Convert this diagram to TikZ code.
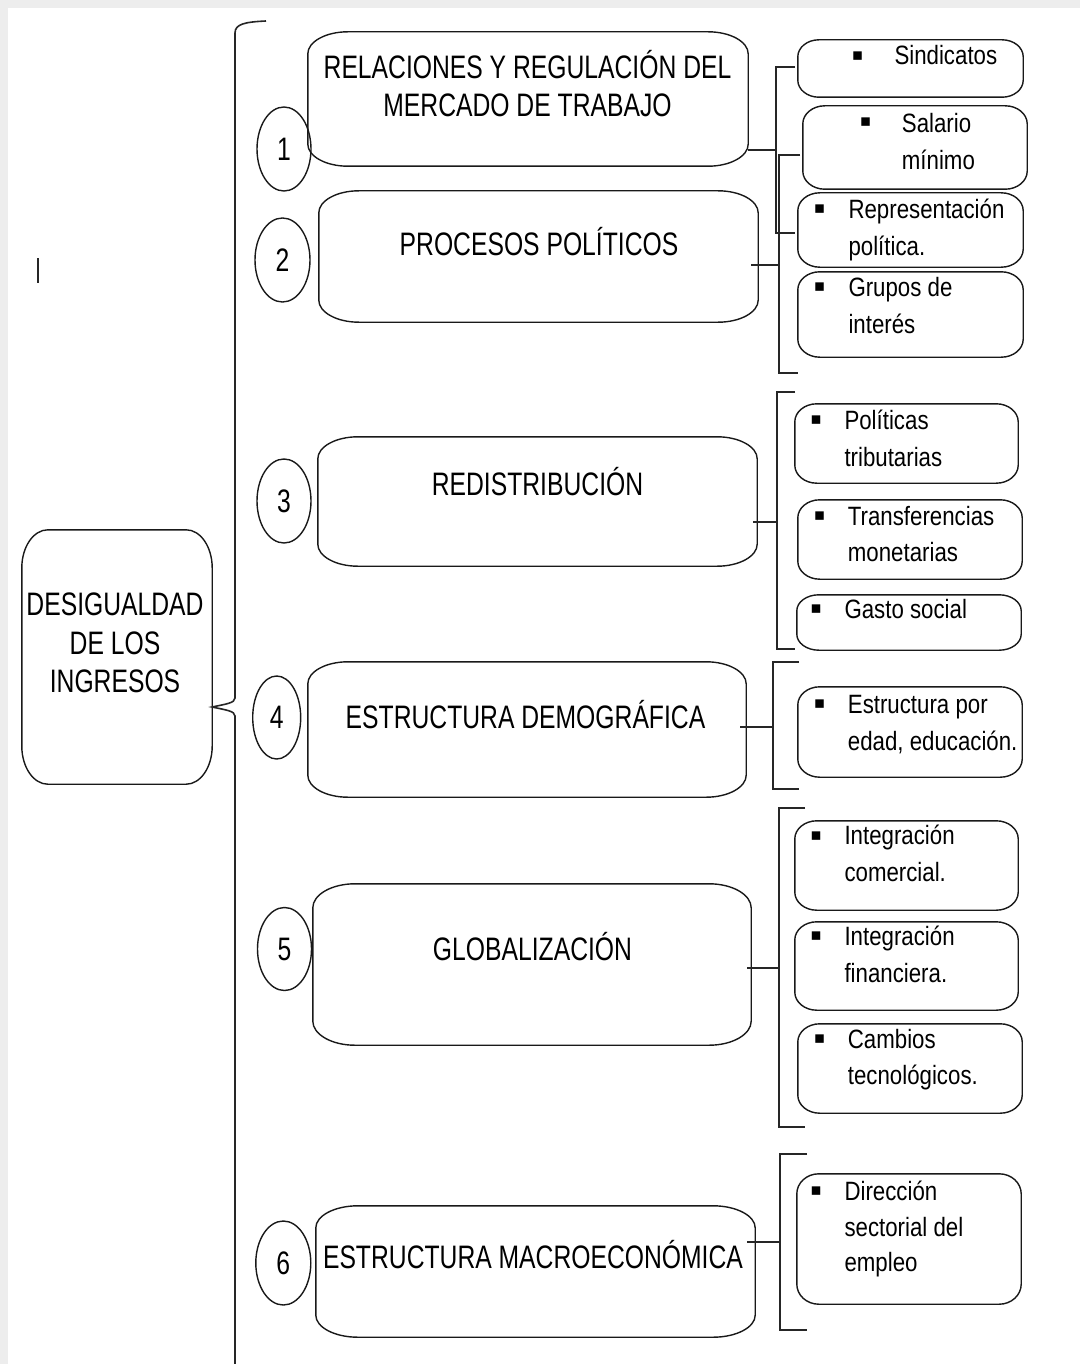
\documentclass[tikz,border=0pt]{standalone}
\usepackage{fontspec}
\setmainfont{Liberation Sans}
\newfontfamily\bigf[FakeStretch=0.76]{Liberation Sans}
\newfontfamily\smf[FakeStretch=0.84]{Liberation Sans}
\newfontfamily\symf{DejaVu Sans}
\usetikzlibrary{shapes.geometric}
\tikzset{
  boxline/.style={draw=black!90, line width=1.4pt},
  mainbox/.style={rectangle, inner sep=0pt},
  subbox/.style={rectangle, inner sep=0pt},
  numcirc/.style={ellipse, draw=black!90, line width=1.4pt, inner sep=0pt, font=\bigf\fontsize{32.5}{39}\selectfont},
  bigtxt/.style={font=\bigf\fontsize{32.5}{38.5}\selectfont, inner sep=0pt, anchor=base, align=center},
  subtxt/.style={font=\smf\fontsize{26.5}{36.6}\selectfont, inner sep=0pt, anchor=base west, align=left},
  bul/.style={font=\symf\fontsize{17}{17}\selectfont, inner sep=0pt},
  brk/.style={line width=1.6pt, draw=black!85},
}
% outline of node #1 with elliptical corners: x radius #2, y radius #3
\newcommand\ebx[3]{%
  \draw[boxline] ([xshift=#2pt]#1.north west) -- ([xshift=-#2pt]#1.north east)
   .. controls ([xshift=-0.45*#2pt]#1.north east) and ([yshift=-0.45*#3pt]#1.north east) .. ([yshift=-#3pt]#1.north east)
   -- ([yshift=#3pt]#1.south east)
   .. controls ([yshift=0.45*#3pt]#1.south east) and ([xshift=-0.45*#2pt]#1.south east) .. ([xshift=-#2pt]#1.south east)
   -- ([xshift=#2pt]#1.south west)
   .. controls ([xshift=0.45*#2pt]#1.south west) and ([yshift=0.45*#3pt]#1.south west) .. ([yshift=#3pt]#1.south west)
   -- ([yshift=-#3pt]#1.north west)
   .. controls ([yshift=-0.45*#3pt]#1.north west) and ([xshift=0.45*#2pt]#1.north west) .. cycle;}
\begin{document}
\begin{tikzpicture}[x=1pt,y=-1pt]
\useasboundingbox (0,0) rectangle (1080,1364);
\fill[black!7] (0,0) rectangle (1080,1364);
\fill[white] (8,8) rectangle (1080,1364);
\draw[line width=1.6pt, black!85] (38,258) -- (38,283);

% root (multi-line nodes: base = last line's baseline)
\node[mainbox, minimum width=190pt, minimum height=254pt] (d) at (117,657) {};
\ebx{d}{26}{38}
\node[bigtxt] (dt) at (115,692.7) {DESIGUALDAD\\DE LOS\\INGRESOS};

% big brace
\coordinate (bt) at (266,21);
\draw[brk] (bt) .. controls (245,22) and (235,24) .. (235,33) -- (235,698)
  .. controls (235,703) and (226,704) .. (d.east |- 0,707)
  .. controls (226,710) and (235,711) .. (235,716) -- (235,1364);

% main boxes
\node[mainbox, minimum width=440pt, minimum height=134pt] (b1) at (528,99) {};
\node[mainbox, minimum width=439pt, minimum height=131pt] (b2) at (538.5,256.5) {};
\node[mainbox, minimum width=439pt, minimum height=129pt] (b3) at (537.5,501.5) {};
\node[mainbox, minimum width=438pt, minimum height=135pt] (b4) at (527,729.5) {};
\node[mainbox, minimum width=438pt, minimum height=161pt] (b5) at (532,964.5) {};
\node[mainbox, minimum width=439pt, minimum height=131pt] (b6) at (535.5,1271.5) {};
\ebx{b1}{40}{22}
\ebx{b2}{40}{22}
\ebx{b3}{40}{22}
\ebx{b4}{40}{22}
\ebx{b5}{42}{24}
\ebx{b6}{42}{22}

\node[bigtxt] (t1) at (527.5,117) {RELACIONES Y REGULACIÓN DEL\\MERCADO DE TRABAJO};
\node[bigtxt] (t2) at (539,255) {PROCESOS POLÍTICOS};
\node[bigtxt] (t3) at (537.5,495) {REDISTRIBUCIÓN};
\node[bigtxt] (t4) at (525.5,728) {ESTRUCTURA DEMOGRÁFICA};
\node[bigtxt] (t5) at (532.5,960) {GLOBALIZACIÓN};
\node[bigtxt] (t6) at (533,1268.5) {ESTRUCTURA MACROECONÓMICA};

% number ellipses
\node[numcirc, minimum width=54pt, minimum height=84pt] (c1) at (284,149) {1};
\node[numcirc, minimum width=55pt, minimum height=84pt] (c2) at (282.5,260) {2};
\node[numcirc, minimum width=54pt, minimum height=84pt] (c3) at (284,501) {3};
\node[numcirc, minimum width=48pt, minimum height=83pt] (c4) at (276.7,717.5) {4};
\node[numcirc, minimum width=54pt, minimum height=83pt] (c5) at (284.5,949) {5};
\node[numcirc, minimum width=55pt, minimum height=84pt] (c6) at (283.3,1263) {6};

% sub boxes
\node[subbox, minimum width=225pt, minimum height=57pt] (r1) at (910.5,68.5) {};
\node[subbox, minimum width=224pt, minimum height=83pt] (r2) at (915,147.5) {};
\node[subbox, minimum width=225pt, minimum height=74pt] (r3) at (910.5,230) {};
\node[subbox, minimum width=225pt, minimum height=85pt] (r4) at (910.5,314.5) {};
\node[subbox, minimum width=223pt, minimum height=79pt] (r5) at (906.5,443.5) {};
\node[subbox, minimum width=224pt, minimum height=79pt] (r6) at (910,539.5) {};
\node[subbox, minimum width=224pt, minimum height=55pt] (r7) at (909,622.5) {};
\node[subbox, minimum width=224pt, minimum height=90pt] (r8) at (910,732) {};
\node[subbox, minimum width=223pt, minimum height=89pt] (r9) at (906.5,865.5) {};
\node[subbox, minimum width=223pt, minimum height=88pt] (r10) at (906.5,966) {};
\node[subbox, minimum width=224pt, minimum height=89pt] (r11) at (910,1068.5) {};
\node[subbox, minimum width=224pt, minimum height=130pt] (r12) at (909,1239) {};
\ebx{r1}{21}{17}
\ebx{r2}{22}{18}
\ebx{r3}{22}{18}
\ebx{r4}{22}{18}
\ebx{r5}{22}{18}
\ebx{r6}{22}{18}
\ebx{r7}{22}{16}
\ebx{r8}{22}{18}
\ebx{r9}{22}{18}
\ebx{r10}{22}{18}
\ebx{r11}{22}{18}
\ebx{r12}{22}{20}

% bullets and texts
\node[bul] (u1) at (857.5,56) {▪};
\node[subtxt] (s1) at (894.3,65) {Sindicatos};
\node[bul] (u2) at (865.5,122.5) {▪};
\node[subtxt] (s2) at (901.7,169.5) {Salario\\mínimo};
\node[bul] (u3) at (819.5,209) {▪};
\node[subtxt] (s3) at (848.3,255) {Representación\\política.};
\node[bul] (u4) at (819.5,287.5) {▪};
\node[subtxt] (s4) at (848.3,333.3) {Grupos de\\interés};
\node[bul] (u5) at (816,420) {▪};
\node[subtxt] (s5) at (844.3,466) {Políticas\\tributarias};
\node[bul] (u6) at (819.5,516) {▪};
\node[subtxt] (s6) at (847.7,561.7) {Transferencias\\monetarias};
\node[bul] (u7) at (816,609) {▪};
\node[subtxt] (s7) at (844.3,618.3) {Gasto social};
\node[bul] (u8) at (819.5,704) {▪};
\node[subtxt] (s8) at (847.7,750.3) {Estructura por\\edad, educación.};
\node[bul] (u9) at (816,836) {▪};
\node[subtxt] (s9) at (844.3,881.5) {Integración\\comercial.};
\node[bul] (u10) at (816,936.5) {▪};
\node[subtxt] (s10) at (844.3,982.2) {Integración\\financiera.};
\node[bul] (u11) at (819.5,1039) {▪};
\node[subtxt] (s11) at (847.7,1084.7) {Cambios\\tecnológicos.};
\node[bul] (u12) at (816,1191.5) {▪};
\node[subtxt, font=\smf\fontsize{26.5}{35.3}\selectfont] (s12) at (844.3,1271.3) {Dirección\\sectorial del\\empleo};

% brackets
\coordinate (k1) at (776,150);
\coordinate (k2) at (779,265);
\coordinate (k3) at (777,522);
\coordinate (k4) at (773,727);
\coordinate (k5) at (779,968);
\coordinate (k6) at (780,1242);
\draw[brk] (795,67) -- (k1 |- 0,67) -- (k1 |- 0,233) -- (795,233);
\draw[brk] (800,155) -- (k2 |- 0,155) -- (k2 |- 0,373) -- (798,373);
\draw[brk] (795,392) -- (k3 |- 0,392) -- (k3 |- 0,649) -- (795,649);
\draw[brk] (799,662) -- (k4 |- 0,662) -- (k4 |- 0,789) -- (799,789);
\draw[brk] (805,808) -- (k5 |- 0,808) -- (k5 |- 0,1127) -- (805,1127);
\draw[brk] (807,1154) -- (k6 |- 0,1154) -- (k6 |- 0,1330) -- (807,1330);
\draw[brk] (b1.east |- k1) -- (k1);
\draw[brk] ([xshift=-7pt]b2.east |- k2) -- (k2);
\draw[brk] ([xshift=-4pt]b3.east |- k3) -- (k3);
\draw[brk] ([xshift=-6pt]b4.east |- k4) -- (k4);
\draw[brk] ([xshift=-4pt]b5.east |- k5) -- (k5);
\draw[brk] ([xshift=-8pt]b6.east |- k6) -- (k6);
\end{tikzpicture}
\end{document}
